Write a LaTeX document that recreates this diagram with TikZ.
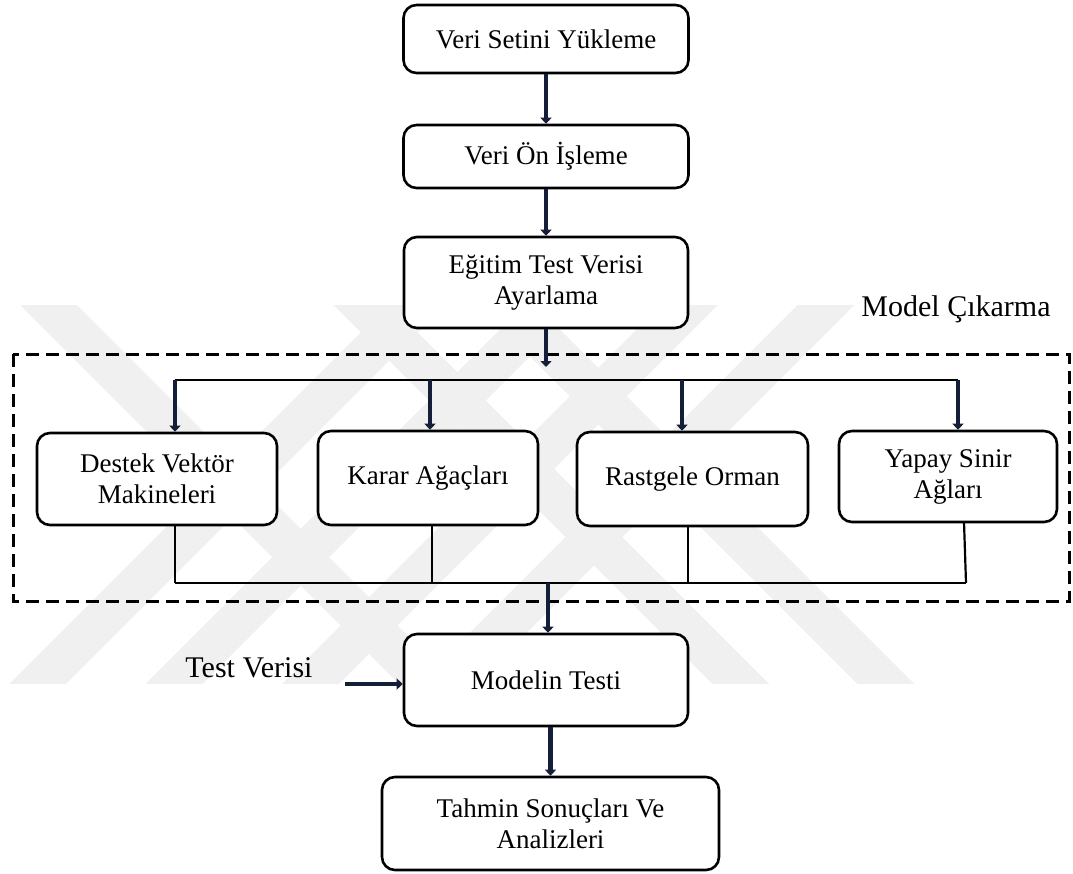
\documentclass[tikz,border=0pt]{standalone}
\usepackage{fontspec}
\setmainfont{Liberation Serif}
\usetikzlibrary{arrows.meta,calc}
\definecolor{arrowc}{RGB}{20,30,56}
\definecolor{wmark}{RGB}{240,240,240}
\begin{document}
\begin{tikzpicture}[x=1pt,y=-1pt,
  box/.style={draw=black, fill=white, line width=2.6pt, rounded corners=13pt, align=center,
    inner sep=0pt, font=\fontsize{27}{31}\selectfont},
  flow/.style={line width=4.6pt, draw=arrowc, -{Triangle[width=11pt,length=6pt]}},
  link/.style={line width=2.2pt, draw=black},
  frame/.style={line width=3pt, dash pattern=on 13pt off 7pt},
  lbl/.style={font=\fontsize{30}{34}\selectfont},
  band/.style={draw=wmark, line width=40pt}]
\useasboundingbox (0,0) rectangle (1073,873);

% faint background emblem of crossing stripes
\begin{scope}
  \clip (0,305) rectangle (1073,683);
  \foreach \c in {38.5,175,311.5,448} \draw[band] (\c-60,743) -- ++(500,-500);
  \foreach \c in {740,885} \draw[band] (\c+60,743) -- ++(-500,-500);
  \draw[band] (48.5-60,245) -- ++(500,500);
\end{scope}

% process boxes
\node[box, minimum width=285pt, minimum height=68pt] (load) at (546,39) {Veri Setini Yükleme};
\node[box, minimum width=285pt, minimum height=63pt] (prep) at (546,156.5) {Veri Ön İşleme};
\node[box, minimum width=284pt, minimum height=91pt] (split) at (546,282.5) {Eğitim Test Verisi\\Ayarlama};

\node[box, minimum width=240pt, minimum height=92pt] (svm) at (157,479) {Destek Vektör\\Makineleri};
\node[box, minimum width=220pt, minimum height=94pt] (dt) at (428,478) {Karar Ağaçları};
\node[box, minimum width=231pt, minimum height=94pt] (rf) at (692.5,479) {Rastgele Orman};
\node[box, minimum width=218pt, minimum height=91pt] (ann) at (948,476.5) {Yapay Sinir\\Ağları};

\node[box, minimum width=284pt, minimum height=92pt] (test) at (546,680) {Modelin Testi};
\node[box, minimum width=337pt, minimum height=93pt] (result) at (550.5,823.5) {Tahmin Sonuçları Ve\\Analizleri};

\node[lbl] (tdata) at (249,667.5) {Test Verisi};
\node[lbl] (mlabel) at (956,309) {Model Çıkarma};

% model extraction frame
\draw[frame] (13,354) rectangle (1069,601);

% junction points
\coordinate (in) at (546,367);
\coordinate (b1) at (175,380);
\coordinate (b2) at (430,380);
\coordinate (b3) at (682,380);
\coordinate (b4) at (958,380);
\coordinate (c1) at (175,583);
\coordinate (c2) at (432,583);
\coordinate (c3) at (688,583);
\coordinate (c4) at (966,583);
\coordinate (out) at (548,583);
\coordinate (tin) at (345,684);

% main flow
\draw[flow] (load) -- (prep);
\draw[flow] (prep) -- (split);
\draw[flow] (split) -- (in);

% distribution to the models
\draw[link] (b1) -- (b4);
\draw[flow] (b1) -- (b1 |- svm.north);
\draw[flow] (b2) -- (b2 |- dt.north);
\draw[flow] (b3) -- (b3 |- rf.north);
\draw[flow] (b4) -- (b4 |- ann.north);

% collection of the models
\draw[link] (c1 |- svm.south) -- (c1);
\draw[link] (c2 |- dt.south) -- (c2);
\draw[link] (c3 |- rf.south) -- (c3);
\draw[link] (964,522) -- (c4);
\draw[link] (c1) -- (c4);
\draw[flow] (out) -- (out |- test.north);

% testing and results
\draw[flow] (tin) -- (tin -| test.west);
\draw[flow] (test.south -| result.north) -- (result.north);
\end{tikzpicture}
\end{document}
